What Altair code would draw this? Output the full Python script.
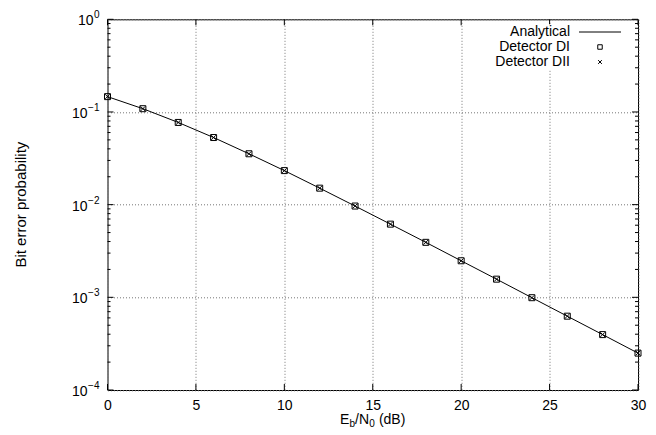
import altair as alt
import pandas as pd

# ---- data ----
snr_db = [0, 2, 4, 6, 8, 10, 12, 14, 16, 18, 20, 22, 24, 26, 28, 30]
ber_analytical = [0.1464, 0.1085, 0.0771, 0.0530, 0.0354, 0.0233, 0.01506, 0.00966,
                  0.00616, 0.00392, 0.00248, 0.00157, 0.000991, 0.000626, 0.000396, 0.00025]
ber_det1 = [0.1464, 0.1085, 0.0771, 0.0530, 0.0354, 0.0233, 0.01506, 0.00966,
            0.00616, 0.00392, 0.00248, 0.00157, 0.000991, 0.000626, 0.000396, 0.00025]
ber_det2 = [0.1464, 0.1085, 0.0771, 0.0530, 0.0354, 0.0233, 0.01506, 0.00966,
            0.00616, 0.00392, 0.00248, 0.00157, 0.000991, 0.000626, 0.000396, 0.00025]

x_ticks = [0, 5, 10, 15, 20, 25, 30]
y_exps = [0, -1, -2, -3, -4]
legend_labels = ["Analytical", "Detector DI", "Detector DII"]

W, H = 530.5, 370.7
FONT = "Liberation Sans"
FS = 14

df = pd.DataFrame({"snr": snr_db, "ana": ber_analytical, "d1": ber_det1, "d2": ber_det2})
xt = pd.DataFrame({"xv": x_ticks})
yt = pd.DataFrame({"e": y_exps, "yv": [10.0 ** e for e in y_exps],
                   "etxt": [("\u2212" + str(-e)) if e < 0 else str(e) for e in y_exps]})
minor = pd.DataFrame({"yv": [m * 10.0 ** e for e in range(-4, 0) for m in range(2, 10)]})

xs = alt.Scale(domain=[0, 30], nice=False, zero=False)
ys = alt.Scale(type="log", domain=[1e-4, 1], nice=False)

xax = alt.Axis(values=x_ticks, grid=True, gridDash=[1, 2], gridColor="#777", gridWidth=1,
               ticks=False, domain=False, labelFontSize=FS, labelFont=FONT,
               labelColor="black", labelPadding=8, labelFlush=False, labelOverlap=False,
               title=None)
yax = alt.Axis(values=[10.0 ** e for e in y_exps], grid=True, gridDash=[1, 2],
               gridColor="#777", gridWidth=1, ticks=False, domain=False, labels=False,
               title=None)


def X(f):
    return alt.X(f, scale=xs, axis=xax)


def Y(f):
    return alt.Y(f, scale=ys, axis=yax)


line = alt.Chart(df).mark_line(color="black", strokeWidth=1).encode(x=X("snr:Q"), y=Y("ana:Q"))

sq = alt.Chart(df).mark_point(shape="square", size=36, filled=False, color="black",
                              strokeWidth=1, opacity=1).encode(x=X("snr:Q"), y=Y("d1:Q"))

XPATH = "M-1,-1L1,1M-1,1L1,-1"
cr = alt.Chart(df).mark_point(shape=XPATH, size=22, filled=False, color="black",
                              strokeWidth=1, opacity=1).encode(x=X("snr:Q"), y=Y("d2:Q"))

# inward ticks
xt_bot = alt.Chart(xt).mark_rule(color="black", strokeWidth=1).encode(
    x=X("xv:Q"), y=alt.value(H), y2=alt.value(H - 6))
xt_top = alt.Chart(xt).mark_rule(color="black", strokeWidth=1).encode(
    x=X("xv:Q"), y=alt.value(0), y2=alt.value(6))
yt_l = alt.Chart(yt).mark_rule(color="black", strokeWidth=1).encode(
    y=Y("yv:Q"), x=alt.value(0), x2=alt.value(6))
yt_r = alt.Chart(yt).mark_rule(color="black", strokeWidth=1).encode(
    y=Y("yv:Q"), x=alt.value(W), x2=alt.value(W - 6))
ym_l = alt.Chart(minor).mark_rule(color="black", strokeWidth=1).encode(
    y=Y("yv:Q"), x=alt.value(0), x2=alt.value(3))
ym_r = alt.Chart(minor).mark_rule(color="black", strokeWidth=1).encode(
    y=Y("yv:Q"), x=alt.value(W), x2=alt.value(W - 3))

# y tick labels 10^e
lab_exp = alt.Chart(yt).mark_text(align="right", baseline="middle", fontSize=10,
                                  font=FONT, color="black", dy=-4).encode(
    y=Y("yv:Q"), x=alt.value(-8), text="etxt:N")
lab10_a = alt.Chart(yt).transform_filter("datum.e == 0").mark_text(
    align="right", baseline="middle", fontSize=FS, font=FONT, color="black", dy=2).encode(
    y=Y("yv:Q"), x=alt.value(-14), text=alt.value("10"))
lab10_b = alt.Chart(yt).transform_filter("datum.e != 0").mark_text(
    align="right", baseline="middle", fontSize=FS, font=FONT, color="black", dy=2).encode(
    y=Y("yv:Q"), x=alt.value(-20), text=alt.value("10"))

# axis titles
one = pd.DataFrame({"a": [0]})
ytitle = alt.Chart(one).mark_text(angle=270, align="center", baseline="middle",
                                  fontSize=15, font=FONT, color="black").encode(
    x=alt.value(-86.5), y=alt.value(H / 2), text=alt.value("Bit error probability"))

tb = H + 34
x0 = 232.6
pieces = [("E", x0, FS, 0), ("b", x0 + 9.4, 10, 3), ("/N", x0 + 15.0, FS, 0),
          ("0", x0 + 29.2, 10, 3), ("(dB)", x0 + 38.8, FS, 0)]
xtitle_layers = []
for txt, px, fs, dy in pieces:
    xtitle_layers.append(alt.Chart(one).mark_text(
        align="left", baseline="alphabetic", fontSize=fs, font=FONT, color="black").encode(
        x=alt.value(px), y=alt.value(tb + dy), text=alt.value(txt)))

# legend (gnuplot style: text right aligned, sample on the right)
leg_bg = alt.Chart(one).mark_rect(fill="white").encode(
    x=alt.value(392), x2=alt.value(522), y=alt.value(5), y2=alt.value(51))
leg_layers = [leg_bg]
rows_y = [12.7, 27.7, 42.7]
for lbl, ry in zip(legend_labels, rows_y):
    leg_layers.append(alt.Chart(one).mark_text(
        align="right", baseline="middle", fontSize=FS, font=FONT, color="black").encode(
        x=alt.value(462.5), y=alt.value(ry), text=alt.value(lbl)))
leg_layers.append(alt.Chart(one).mark_rule(color="black", strokeWidth=1).encode(
    x=alt.value(471.5), x2=alt.value(513.5), y=alt.value(rows_y[0])))
leg_layers.append(alt.Chart(one).mark_point(shape="square", size=20, filled=False,
                                            color="black", strokeWidth=1, opacity=1).encode(
    x=alt.value(492.5), y=alt.value(rows_y[1])))
leg_layers.append(alt.Chart(one).mark_point(shape=XPATH, size=14, filled=False,
                                            color="black", strokeWidth=1, opacity=1).encode(
    x=alt.value(492.5), y=alt.value(rows_y[2])))

chart = alt.layer(
    line, sq, cr, xt_bot, xt_top, yt_l, yt_r, ym_l, ym_r,
    lab_exp, lab10_a, lab10_b, ytitle, *xtitle_layers, *leg_layers
).properties(
    width=W, height=H,
    autosize=alt.AutoSizeParams(type="none"),
    padding={"left": 99.5, "top": 11.3, "right": 10, "bottom": 40},
    background="white",
).configure_view(stroke="black", strokeWidth=1)

chart.save("out.html", embed_options={"renderer": "svg", "actions": False})
